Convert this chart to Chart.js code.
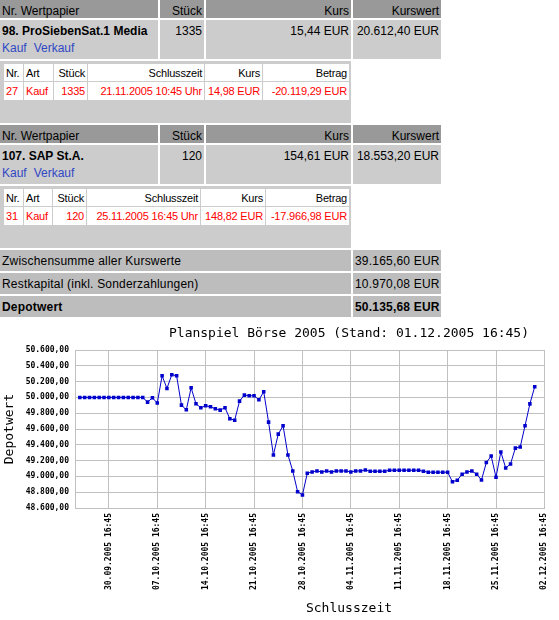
<!DOCTYPE html>
<html>
<head>
<meta charset="utf-8">
<script src="https://cdn.jsdelivr.net/npm/chart.js@4"></script>
<style>
  body { margin: 0; background: #fff; font-family: "Liberation Sans", Arial, sans-serif; font-size: 12px; color: #000; }
  table.depot { border-collapse: separate; border-spacing: 2px; margin: -2px 0 0 -2px; table-layout: fixed; width: 445px; }
  table.depot td { box-sizing: border-box; padding: 0 2px; white-space: nowrap; }
  .r { text-align: right; }
  tr.head td { background: #999999; height: 18px; vertical-align: bottom; }
  tr.pos td { background: #cccccc; height: 39px; vertical-align: top; padding-top: 3px; line-height: 17px; }
  tr.trades td.box { background: #cccccc; height: 62px; vertical-align: top; padding: 2px 0 0 3px; }
  tr.sum td { background: #bdbdbd; height: 21px; vertical-align: middle; letter-spacing: 0.2px; }
  a { color: #3048c4; text-decoration: none; }
  a + a { margin-left: 7px; }
  table.trans { border-collapse: separate; border-spacing: 1px; table-layout: fixed; width: 347px; font-size: 11px; letter-spacing: -0.2px; }
  table.trans td { background: #fff; height: 17px; padding: 0 2px; vertical-align: middle; }
  table.trans tr.buy td { color: #ff0000; height: 18px; }
  #chartBox { position: absolute; left: 0; top: 318px; width: 559px; height: 302px; }
</style>
</head>
<body>
<table class="depot">
  <tr class="head"><td style="width:158px">Nr. Wertpapier</td><td class="r" style="width:44px">Stück</td><td class="r" style="width:145px">Kurs</td><td class="r" style="width:88px">Kurswert</td></tr>
  <tr class="pos"><td><b>98. ProSiebenSat.1 Media</b><br><a href="#">Kauf</a><a href="#">Verkauf</a></td><td class="r">1335</td><td class="r">15,44 EUR</td><td class="r">20.612,40 EUR</td></tr>
  <tr class="trades"><td class="box" colspan="3">
    <table class="trans">
      <tr><td style="width:19px">Nr.</td><td style="width:29px">Art</td><td class="r" style="width:33px">Stück</td><td class="r" style="width:116px">Schlusszeit</td><td class="r" style="width:57px">Kurs</td><td class="r" style="width:86px">Betrag</td></tr>
      <tr class="buy"><td>27</td><td>Kauf</td><td class="r">1335</td><td class="r">21.11.2005 10:45 Uhr</td><td class="r">14,98 EUR</td><td class="r">-20.119,29 EUR</td></tr>
    </table>
  </td><td></td></tr>
  <tr class="head"><td>Nr. Wertpapier</td><td class="r">Stück</td><td class="r">Kurs</td><td class="r">Kurswert</td></tr>
  <tr class="pos"><td><b>107. SAP St.A.</b><br><a href="#">Kauf</a><a href="#">Verkauf</a></td><td class="r">120</td><td class="r">154,61 EUR</td><td class="r">18.553,20 EUR</td></tr>
  <tr class="trades"><td class="box" colspan="3">
    <table class="trans">
      <tr><td style="width:19px">Nr.</td><td style="width:28px">Art</td><td class="r" style="width:33px">Stück</td><td class="r" style="width:113px">Schlusszeit</td><td class="r" style="width:64px">Kurs</td><td class="r" style="width:83px">Betrag</td></tr>
      <tr class="buy"><td>31</td><td>Kauf</td><td class="r">120</td><td class="r">25.11.2005 16:45 Uhr</td><td class="r">148,82 EUR</td><td class="r">-17.966,98 EUR</td></tr>
    </table>
  </td><td></td></tr>
  <tr class="sum"><td colspan="3">Zwischensumme aller Kurswerte</td><td class="r">39.165,60 EUR</td></tr>
  <tr class="sum"><td colspan="3">Restkapital (inkl. Sonderzahlungen)</td><td class="r">10.970,08 EUR</td></tr>
  <tr class="sum"><td colspan="3"><b>Depotwert</b></td><td class="r"><b>50.135,68 EUR</b></td></tr>
</table>

<div id="chartBox"><canvas id="depotChart"></canvas></div>

<script>
// Handelstage im Planspiel, je zwei Schlusszeiten pro Tag
const tradingDays = [
  '27.09.2005', '28.09.2005', '29.09.2005', '30.09.2005',
  '03.10.2005', '04.10.2005', '05.10.2005', '06.10.2005', '07.10.2005',
  '10.10.2005', '11.10.2005', '12.10.2005', '13.10.2005', '14.10.2005',
  '17.10.2005', '18.10.2005', '19.10.2005', '20.10.2005', '21.10.2005',
  '24.10.2005', '25.10.2005', '26.10.2005', '27.10.2005', '28.10.2005',
  '31.10.2005', '01.11.2005', '02.11.2005', '03.11.2005', '04.11.2005',
  '07.11.2005', '08.11.2005', '09.11.2005', '10.11.2005', '11.11.2005',
  '14.11.2005', '15.11.2005', '16.11.2005', '17.11.2005', '18.11.2005',
  '21.11.2005', '22.11.2005', '23.11.2005', '24.11.2005', '25.11.2005',
  '28.11.2005', '29.11.2005', '30.11.2005', '01.12.2005', '02.12.2005'
];
const sessionTimes = ['10:45', '16:45'];

const tickLabels = [
  '30.09.2005 16:45', '07.10.2005 16:45', '14.10.2005 16:45', '21.10.2005 16:45',
  '28.10.2005 16:45', '04.11.2005 16:45', '11.11.2005 16:45', '18.11.2005 16:45',
  '25.11.2005 16:45', '02.12.2005 16:45'
];

// Depotwert in EUR (erster Slot ohne Wert)
const depotwert = [
  null,
  50000, 50000, 50000, 50000, 50000, 50000, 50000, 50000, 50000, 50000, 50000, 50000, 50000, 50000,
  49940, 49995, 49928, 50274, 50114,
  50287, 50274, 49902, 49843, 50122, 49919, 49869, 49894, 49881, 49856,
  49839, 49869, 49729, 49712, 49953, 50029, 50021, 50021, 49970, 50071,
  49687, 49272, 49535, 49640, 49272, 49069, 48807, 48765, 49040, 49057,
  49069, 49057, 49069, 49057, 49069, 49069, 49069, 49057, 49069, 49069,
  49080, 49065, 49065, 49065, 49065, 49078, 49078, 49078, 49078, 49078,
  49078, 49078, 49065, 49053, 49053, 49053, 49053, 49053, 48932, 48952,
  49028, 49055, 49068, 49028, 48955, 49175, 49257, 48990, 49310, 49107,
  49158, 49358, 49373, 49641, 49918, 50135
];

const yMin = 48600;
const yMax = 50600;
const yStep = 200;

const chartTitle = 'Planspiel Börse 2005 (Stand: 01.12.2005 16:45)';
const xTitle = 'Schlusszeit';
const yTitle = 'Depotwert';

const categories = [];
tradingDays.forEach(function(day) {
  sessionTimes.forEach(function(t) { categories.push(day + ' ' + t); });
});

function formatEuro(v) {
  const parts = v.toFixed(2).split('.');
  return parts[0].replace(/\B(?=(\d{3})+(?!\d))/g, '.') + ',' + parts[1];
}

const gridColor = '#c0c0c0';
const mono = 'DejaVu Sans Mono';

// Titel sitzen im Original nicht mittig ueber der Zeichenflaeche
const titles = {
  id: 'titles',
  afterDraw(chart) {
    const c = chart.ctx;
    c.save();
    c.fillStyle = '#000';
    c.font = '13px "' + mono + '"';
    c.textAlign = 'center';
    c.textBaseline = 'middle';
    c.fillText(chartTitle, 349, 16);
    c.fillText(xTitle, 349, 291);
    c.restore();
  }
};

new Chart(document.getElementById('depotChart'), {
  type: 'line',
  data: {
    labels: categories,
    datasets: [{
      label: yTitle,
      data: depotwert,
      borderColor: '#0000cc',
      backgroundColor: '#0000cc',
      borderWidth: 1,
      tension: 0,
      pointStyle: 'rect',
      pointRadius: 2.5,
      pointBorderWidth: 0
    }]
  },
  options: {
    responsive: true,
    maintainAspectRatio: false,
    animation: false,
    layout: { padding: { top: 32, right: 6, bottom: 0, left: 0 } },
    plugins: {
      legend: { display: false },
      tooltip: { enabled: false },
      title: { display: false }
    },
    scales: {
      x: {
        offset: false,
        grid: {
          drawTicks: false,
          color: function(ctx) {
            return tickLabels.includes(categories[ctx.index]) ? gridColor : 'rgba(0,0,0,0)';
          }
        },
        border: { color: gridColor },
        ticks: {
          autoSkip: false,
          minRotation: 90,
          maxRotation: 90,
          padding: 5,
          color: '#000',
          font: { family: mono, size: 8, weight: 'bold' },
          callback: function(value) {
            const l = this.getLabelForValue(value);
            return tickLabels.includes(l) ? l : '';
          }
        },
        afterFit: function(scale) { scale.height = 112; }
      },
      y: {
        min: yMin,
        max: yMax,
        grid: { drawTicks: false, color: gridColor },
        border: { color: gridColor },
        ticks: {
          stepSize: yStep,
          padding: 6,
          color: '#000',
          font: { family: mono, size: 8, weight: 'bold' },
          callback: function(value) { return formatEuro(value); }
        },
        title: {
          display: true,
          text: yTitle,
          color: '#000',
          font: { family: mono, size: 13 },
          padding: { top: 2, bottom: 0 }
        },
        afterFit: function(scale) { scale.width = 75; }
      }
    }
  },
  plugins: [titles]
});
</script>
</body>
</html>
